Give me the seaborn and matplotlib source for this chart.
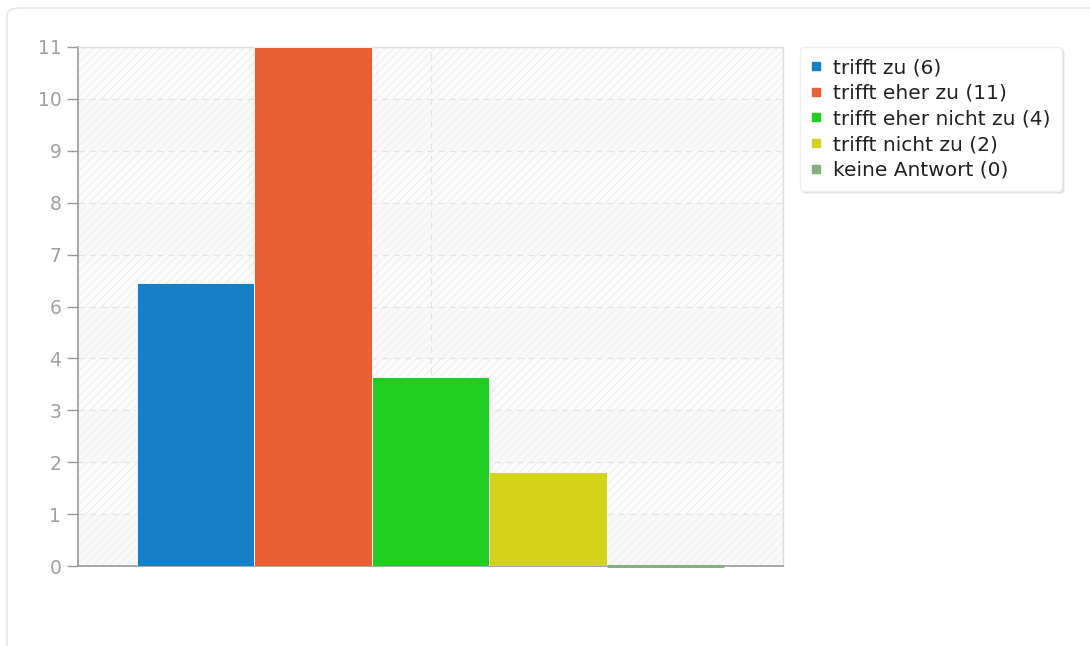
import numpy as np
import pandas as pd
import matplotlib.pyplot as plt
from matplotlib.lines import Line2D
from matplotlib.patches import Rectangle, FancyBboxPatch
import seaborn as sns

# Daten
antworten = ['trifft zu', 'trifft eher zu', 'trifft eher nicht zu', 'trifft nicht zu', 'keine Antwort']
anzahl = [6, 11, 4, 2, 0]
farben = ['#1380c8', '#e86033', '#20cf22', '#d3d31c', '#84b07e']
y_ticks = np.linspace(0, 11, 11)
y_labels = [str(int(np.floor(v + 0.5))) for v in y_ticks]

sns.set_theme(style='white')
plt.rcParams['font.family'] = ['DejaVu Sans']

df = pd.DataFrame({'frage': [''] * len(antworten), 'antwort': antworten, 'anzahl': anzahl})

fig = plt.figure(figsize=(10.9, 6.46), dpi=100)
# Karte im Hintergrund
card = FancyBboxPatch((7 / 1090, -0.05), 1.1, 1 - 8 / 646 + 0.05,
                      boxstyle='round,pad=0,rounding_size=0.012', transform=fig.transFigure,
                      facecolor='white', edgecolor='#e6e6e6', lw=1.2, zorder=-1)
fig.patches.append(card)

ax = fig.add_axes([78 / 1090, 1 - 566 / 646, (783 - 78) / 1090, (566 - 47) / 646])
ax.set_facecolor('#fcfcfc')

sns.barplot(data=df, x='frage', y='anzahl', hue='antwort', hue_order=antworten,
            palette=farben, saturation=1, width=587 / 705, edgecolor='white', linewidth=0.6,
            legend=False, ax=ax, zorder=3)

# Balken mit Wert 0 als Linie
for p, f in zip(ax.patches, farben):
    if p.get_height() == 0:
        p.set_edgecolor(f)
        p.set_linewidth(2.2)
        p.set_clip_on(False)
        p.set_zorder(6)

ax.set_xlim(-0.5, 0.5)
ax.set_ylim(0, 11)

# Schraffierter Hintergrund
plt.rcParams['hatch.linewidth'] = 0.8
ax.add_patch(Rectangle((0, 0), 1, 1, transform=ax.transAxes, facecolor='none',
                       edgecolor='#eeeeee', hatch='////', lw=0, zorder=0))
for i in range(0, 10, 2):
    ax.axhspan(y_ticks[i], y_ticks[i + 1], color='#f6f6f6', alpha=0.45, zorder=0.5, lw=0)

ax.set_yticks(y_ticks)
ax.set_yticklabels(y_labels)
ax.set_xticks([0])
ax.set_xticklabels([''])
ax.tick_params(axis='y', left=True, length=8, width=1, color='#999999',
               labelcolor='#a0a0a0', labelsize=13.5, pad=4)
ax.tick_params(axis='x', bottom=False)
ax.set_xlabel('')
ax.set_ylabel('')

ax.grid(axis='both', linestyle=(0, (5, 4)), color='#e3e3e3', lw=0.9, zorder=1)
ax.set_axisbelow(True)

for s in ['left', 'bottom']:
    ax.spines[s].set_color('#999999')
    ax.spines[s].set_linewidth(1.2)
for s in ['top', 'right']:
    ax.spines[s].set_color('#dddddd')
    ax.spines[s].set_linewidth(1)

handles = [Line2D([0], [0], marker='s', linestyle='', markersize=5.5, markerfacecolor=f,
                  markeredgecolor=f) for f in farben]
labels = [f'{a} ({n})' for a, n in zip(antworten, anzahl)]
leg = fig.legend(handles, labels, loc='upper left', bbox_to_anchor=(800 / 1090, 1 - 47 / 646),
                 fontsize=14.5, frameon=True, fancybox=True, handlelength=0.5,
                 handletextpad=0.6, labelspacing=0.33, borderpad=0.55, borderaxespad=0,
                 shadow={'color': '#cccccc', 'alpha': 0.5, 'ox': 1.5, 'oy': -1.5})
leg.get_frame().set_edgecolor('#eeeeee')
leg.get_frame().set_facecolor('white')
for t in leg.get_texts():
    t.set_color('#222222')

fig.savefig('out.png', dpi=100)
